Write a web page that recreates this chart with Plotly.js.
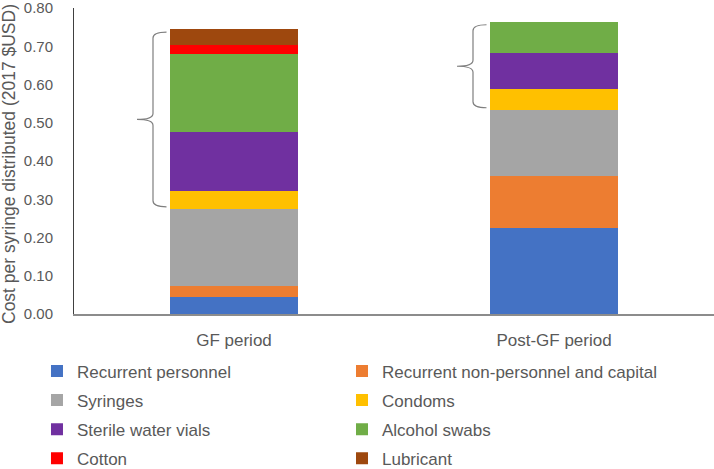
<!DOCTYPE html>
<html>
<head>
<meta charset="utf-8">
<script src="https://cdn.plot.ly/plotly-3.0.1.min.js"></script>
<style>
  html, body { margin: 0; padding: 0; background: #ffffff; }
  #chart { width: 714px; height: 469px; }
</style>
</head>
<body>
<div id="chart"></div>
<script>
// ---- Data ----
const categories = ['GF period', 'Post-GF period'];
const seriesNames = [
  'Recurrent personnel',
  'Recurrent non-personnel and capital',
  'Syringes',
  'Condoms',
  'Sterile water vials',
  'Alcohol swabs',
  'Cotton',
  'Lubricant'
];
const personnel    = [0.044, 0.225];
const nonPersonnel = [0.028, 0.136];
const syringes     = [0.203, 0.173];
const condoms      = [0.046, 0.055];
const sterileWater = [0.154, 0.093];
const alcoholSwabs = [0.205, 0.082];
const cotton       = [0.024, 0.000];
const lubricant    = [0.041, 0.000];
const yTickVals = [0, 0.1, 0.2, 0.3, 0.4, 0.5, 0.6, 0.7, 0.8];
const yTickText = ['0.00', '0.10', '0.20', '0.30', '0.40', '0.50', '0.60', '0.70', '0.80'];
const yTitle = 'Cost per syringe distributed (2017 $USD)';

// ---- Styling ----
const seriesValues = [personnel, nonPersonnel, syringes, condoms, sterileWater, alcoholSwabs, cotton, lubricant];
const seriesColors = ['#4472C4', '#ED7D31', '#A5A5A5', '#FFC000', '#7030A0', '#70AD47', '#FF0000', '#9E480E'];
const FONT = 'Liberation Sans, Arial, sans-serif';
const TXT = '#595959';

const W = 714, H = 469;
const M = { l: 74, r: 0, t: 8, b: 155 };
const plotW = W - M.l - M.r;
const plotH = H - M.t - M.b;
const yRange = [0, 0.8];
const xRange = [-0.5, 1.5];
const barWidth = 0.4;
const pxPerY = plotH / (yRange[1] - yRange[0]);

const traces = seriesNames.map((name, i) => ({
  type: 'bar',
  name: name,
  x: categories,
  y: seriesValues[i],
  width: barWidth,
  marker: { color: seriesColors[i], line: { width: 0 } },
  legend: (i % 2 === 0) ? 'legend' : 'legend2',
  legendgroup: 'g' + i,
  hoverinfo: 'name+y'
}));

// Braces next to the non-syringe commodity segments
function stackSum(idx, upto) {
  let s = 0;
  for (let k = 0; k < upto; k++) s += seriesValues[k][idx];
  return s;
}
function bracePath(idx, lo, hi) {
  const toPaper = v => (v - xRange[0]) / (xRange[1] - xRange[0]);
  const px = 1 / plotW;
  const left = toPaper(idx - barWidth / 2);
  const xv = left - 17 * px, xt = left - 33 * px, xh = left - 3.5 * px;
  const r = 6 / pxPerY;
  const mid = (lo + hi) / 2;
  return 'M' + xh + ',' + hi +
    ' Q' + xv + ',' + hi + ' ' + xv + ',' + (hi - r) +
    ' L' + xv + ',' + (mid + r) +
    ' Q' + xv + ',' + mid + ' ' + xt + ',' + mid +
    ' Q' + xv + ',' + mid + ' ' + xv + ',' + (mid - r) +
    ' L' + xv + ',' + (lo + r) +
    ' Q' + xv + ',' + lo + ' ' + xh + ',' + lo;
}
const shapes = categories.map((c, idx) => {
  const lo = stackSum(idx, 3) + 2 / pxPerY;
  const hi = stackSum(idx, seriesValues.length) - 3 / pxPerY;
  return {
    type: 'path', xref: 'paper', yref: 'y',
    path: bracePath(idx, lo, hi),
    line: { color: '#7F7F7F', width: 1.2 },
    fillcolor: 'rgba(0,0,0,0)'
  };
});

const legendBase = {
  orientation: 'v',
  xref: 'container', yref: 'container',
  xanchor: 'left',
  y: 0.2465, yanchor: 'top',
  font: { family: FONT, size: 17, color: TXT },
  traceorder: 'grouped',
  tracegroupgap: 4,
  bgcolor: 'rgba(0,0,0,0)'
};

const layout = {
  width: W, height: H,
  margin: Object.assign({ autoexpand: false }, M),
  paper_bgcolor: '#ffffff',
  plot_bgcolor: '#ffffff',
  barmode: 'stack',
  font: { family: FONT, color: TXT, size: 15 },
  showlegend: true,
  legend: Object.assign({}, legendBase, { x: 0.0518 }),
  legend2: Object.assign({}, legendBase, { x: 0.4790 }),
  xaxis: {
    type: 'category',
    range: xRange,
    showgrid: false, zeroline: false,
    showline: true, linecolor: '#8C8C8C', linewidth: 2,
    ticks: '',
    ticklabelstandoff: 10,
    tickfont: { family: FONT, size: 17, color: TXT }
  },
  yaxis: {
    range: yRange,
    tickvals: yTickVals, ticktext: yTickText,
    showgrid: false, zeroline: false,
    showline: true, linecolor: '#404040', linewidth: 1,
    ticks: '',
    ticklabelstandoff: 17,
    ticklabeloverflow: 'allow',
    tickfont: { family: FONT, size: 15, color: TXT }
  },
  annotations: [{
    text: yTitle,
    xref: 'paper', yref: 'paper',
    x: (9 - M.l) / plotW, y: (plotH + M.t - 164) / plotH,
    xanchor: 'center', yanchor: 'middle',
    textangle: -90,
    showarrow: false,
    font: { family: FONT, size: 17.5, color: TXT }
  }],
  shapes: shapes
};

Plotly.newPlot('chart', traces, layout, { displayModeBar: false, staticPlot: true });
</script>
</body>
</html>
